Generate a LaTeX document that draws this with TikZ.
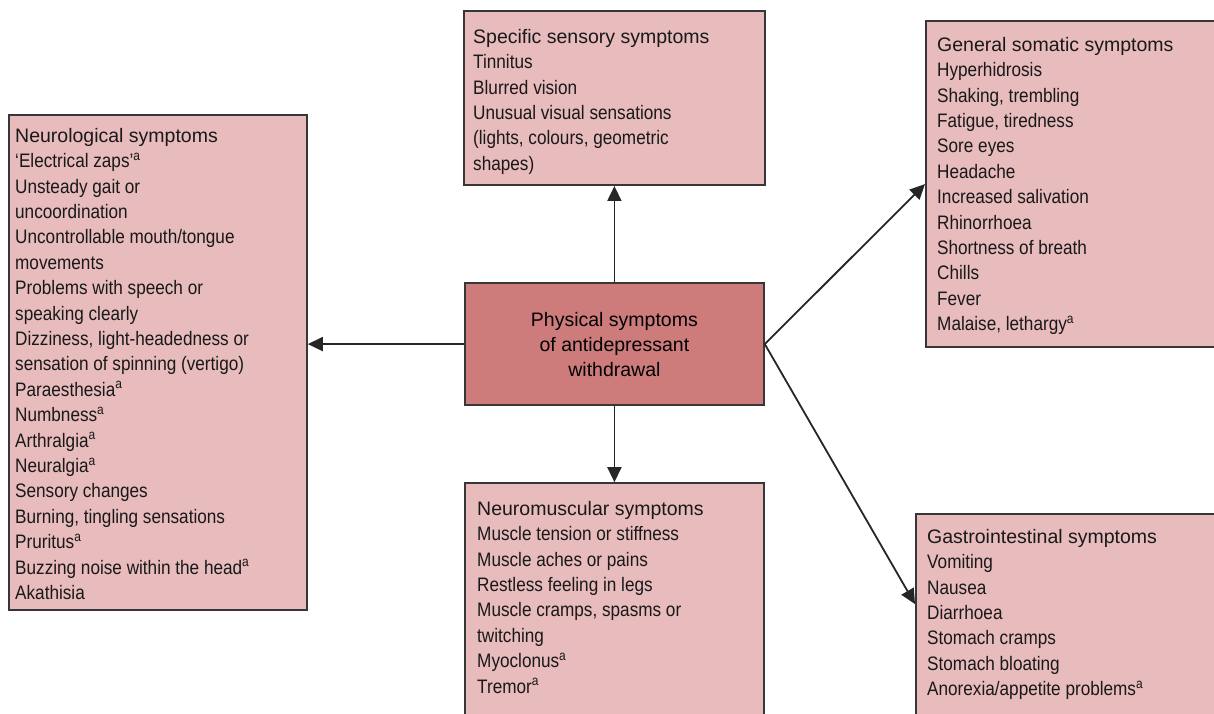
\documentclass[tikz,border=0pt]{standalone}
\usepackage{fontspec}
\setmainfont{Liberation Sans}
\newfontfamily\itemfont{Liberation Sans}[FakeStretch=0.88]
\usetikzlibrary{arrows.meta}
\definecolor{boxfill}{RGB}{232,187,188}
\definecolor{hubfill}{RGB}{206,123,124}
\definecolor{edgeink}{RGB}{55,55,55}
\newcommand{\boxhead}[1]{{\rmfamily #1}}
\newcommand{\supa}{\textsuperscript{a}}

\begin{document}
\begin{tikzpicture}[x=1pt, y=1pt,
  panel/.style={draw=edgeink, line width=1.8pt, fill=boxfill, anchor=south west, inner sep=0pt},
  list/.style={anchor=north west, inner sep=0pt, align=left, text=black!90, font=\fontsize{19.5}{25.4}\selectfont\itemfont},
  link/.style={draw=black!85, line width=1.8pt, -{Triangle[length=15pt,width=14pt]}}]
  \useasboundingbox (0,0) rectangle (1214,713);
  \node[panel, minimum width=298, minimum height=495] (neuro) at (8,102) {};
  \node[panel, minimum width=301, minimum height=174] (sensory) at (463,527) {};
  \node[panel, fill=hubfill, minimum width=299, minimum height=122] (hub) at (464,307) {};
  \node[panel, minimum width=299, minimum height=245] (muscle) at (464,-16) {};
  \node[panel, minimum width=300, minimum height=326] (somatic) at (925,365) {};
  \node[panel, minimum width=310, minimum height=214] (gastro) at (915,-16) {};

  \node[list] (neurotext) at (15,585) {\boxhead{Neurological symptoms}\\
    ‘Electrical zaps’\supa\\ Unsteady gait or\\ uncoordination\\
    Uncontrollable mouth/tongue\\ movements\\ Problems with speech or\\
    speaking clearly\\ Dizziness, light-headedness or\\
    sensation of spinning (vertigo)\\ Paraesthesia\supa\\ Numbness\supa\\
    Arthralgia\supa\\ Neuralgia\supa\\ Sensory changes\\
    Burning, tingling sensations\\ Pruritus\supa\\
    Buzzing noise within the head\supa\\ Akathisia};
  \node[list] (sensorytext) at (473,684) {\boxhead{Specific sensory symptoms}\\
    Tinnitus\\ Blurred vision\\ Unusual visual sensations\\
    (lights, colours, geometric\\ shapes)};
  \node[align=center, font=\fontsize{19.5}{25}\selectfont] (hubtext) at (hub.center)
    {Physical symptoms\\ of antidepressant\\ withdrawal};
  \node[list] (muscletext) at (477,212) {\boxhead{Neuromuscular symptoms}\\
    Muscle tension or stiffness\\ Muscle aches or pains\\
    Restless feeling in legs\\ Muscle cramps, spasms or\\ twitching\\
    Myoclonus\supa\\ Tremor\supa};
  \node[list] (somatictext) at (937,676) {\boxhead{General somatic symptoms}\\
    Hyperhidrosis\\ Shaking, trembling\\ Fatigue, tiredness\\ Sore eyes\\
    Headache\\ Increased salivation\\ Rhinorrhoea\\ Shortness of breath\\
    Chills\\ Fever\\ Malaise, lethargy\supa};
  \node[list] (gastrotext) at (927,184) {\boxhead{Gastrointestinal symptoms}\\
    Vomiting\\ Nausea\\ Diarrhoea\\ Stomach cramps\\ Stomach bloating\\
    Anorexia/appetite problems\supa};

  \draw[link] (hub.north) -- (sensory.south);
  \draw[link] (hub.west) -- (hub.west -| neuro.east);
  \draw[link] (hub.south) -- (muscle.north);
  \draw[link] (hub.east) -- (somatic.west);
  \draw[link] (hub.east) -- ([yshift=17pt]gastro.west);
\end{tikzpicture}
\end{document}
